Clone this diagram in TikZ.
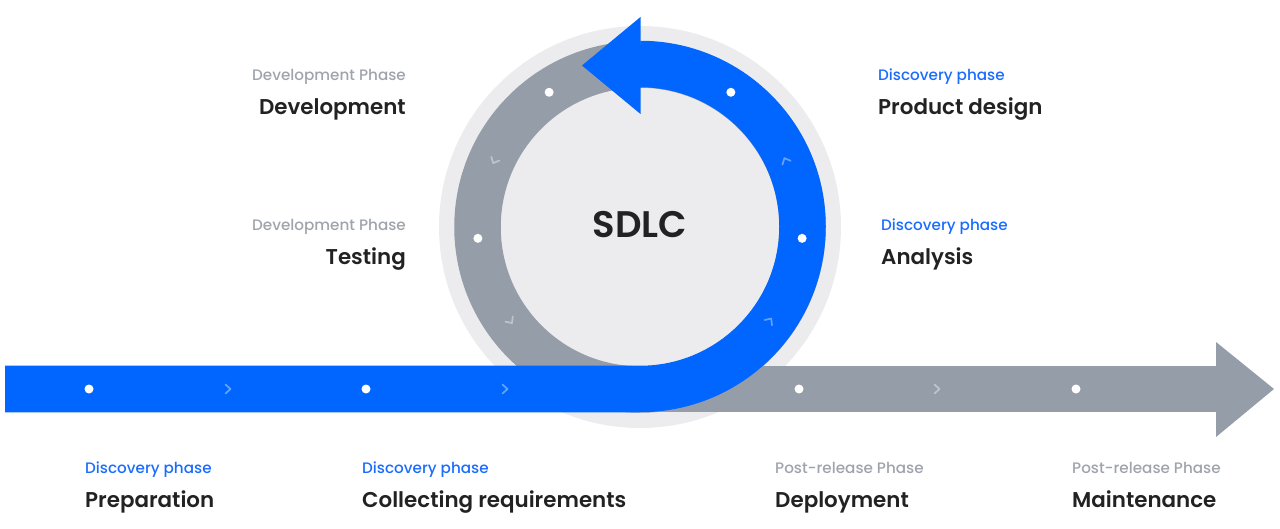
\documentclass[tikz,border=0pt]{standalone}
\usepackage{fontspec}
\setmainfont{Poppins}
\newfontfamily\semib{Poppins SemiBold}
\newfontfamily\medf{Poppins Medium}
\usetikzlibrary{calc}
\definecolor{lightc}{HTML}{ECECEF}
\definecolor{ringgray}{HTML}{959DA8}
\definecolor{bluec}{HTML}{0066FF}
\definecolor{labgray}{HTML}{9FA4AC}
\definecolor{labblue}{HTML}{1A6CFF}
\definecolor{dark}{HTML}{222222}
\begin{document}
\begin{tikzpicture}[x=1pt,y=1pt,
  sub/.style={inner sep=0pt, font=\medf\fontsize{15.2}{16}\selectfont},
  subgray/.style={sub, text=labgray},
  subblue/.style={sub, text=labblue},
  mainlbl/.style={inner sep=0pt, font=\semib\fontsize{21.4}{24}\selectfont, text=dark},
  dot/.style={circle, fill=white, draw=none, inner sep=0pt, minimum size=9pt},
  chev/.style={draw=white, draw opacity=0.4, line width=1.7pt, line cap=round, line join=round}]
\useasboundingbox (0,0) rectangle (1280,528);
% base circle and ring
\fill[lightc] (640,301) circle[radius=201];
\draw[ringgray, line width=46.5pt] (640,301) circle[radius=162.5];
% gray arrow
\fill[ringgray] (640,115.75) rectangle (1216,162.25);
\fill[ringgray] (1216,186) -- (1274,139) -- (1216,91) -- cycle;
% blue arrow
\draw[bluec, line width=46.5pt] (5,139) -- (640,139) arc[start angle=-90, end angle=90, radius=162.5];
\fill[bluec] (640.5,511) -- (582,462.5) -- (640.5,414) -- cycle;
% dots on the line
\node[dot] (d1) at (89,139) {};
\node[dot] (d2) at (366,139) {};
\node[dot] (d3) at (799,139) {};
\node[dot] (d4) at (1076,139) {};
% dots on the ring
\node[dot] (r1) at ($(640,301)+(124:162.5)$) {};
\node[dot] (r2) at ($(640,301)+(56:162.5)$) {};
\node[dot] (r3) at ($(640,301)+(184:162.5)$) {};
\node[dot] (r4) at ($(640,301)+(-4:162.5)$) {};
% chevrons on the line
\foreach \cx in {228,505,937}{
  \draw[chev, shift={(\cx,139)}] (-2.5,4.5) -- (2.5,0) -- (-2.5,-4.5);
}
% chevrons on the ring
\foreach \ang in {24.6,-35.8,155.6,216}{
  \draw[chev, shift={($(640,301)+(\ang:160)$)}, rotate=\ang+90] (-2.5,4.5) -- (2.5,0) -- (-2.5,-4.5);
}
% center text
\node[inner sep=0pt, anchor=base, font=\semib\fontsize{37}{40}\selectfont, text=dark] (sdlc) at (640,290) {SDLC};
% left labels
\node[subgray, anchor=base east] (p1) at (406,447) {Development Phase};
\node[mainlbl, anchor=base east] (n1) at (406,413) {Development};
\node[subgray, anchor=base east] (p2) at (406,297) {Development Phase};
\node[mainlbl, anchor=base east] (n2) at (406,263) {Testing};
% right labels
\node[subblue, anchor=base west] (p3) at (878,447) {Discovery phase};
\node[mainlbl, anchor=base west] (n3) at (878,413) {Product design};
\node[subblue, anchor=base west] (p4) at (881,297) {Discovery phase};
\node[mainlbl, anchor=base west] (n4) at (881,263) {Analysis};
% bottom labels
\node[subblue, anchor=base west] (p5) at (85,55) {Discovery phase};
\node[mainlbl, anchor=base west] (n5) at (85,21) {Preparation};
\node[subblue, anchor=base west] (p6) at (362,55) {Discovery phase};
\node[mainlbl, anchor=base west] (n6) at (362,21) {Collecting requirements};
\node[subgray, anchor=base west] (p7) at (775,55) {Post-release Phase};
\node[mainlbl, anchor=base west] (n7) at (775,21) {Deployment};
\node[subgray, anchor=base west] (p8) at (1072,55) {Post-release Phase};
\node[mainlbl, anchor=base west] (n8) at (1072,21) {Maintenance};
\end{tikzpicture}
\end{document}
